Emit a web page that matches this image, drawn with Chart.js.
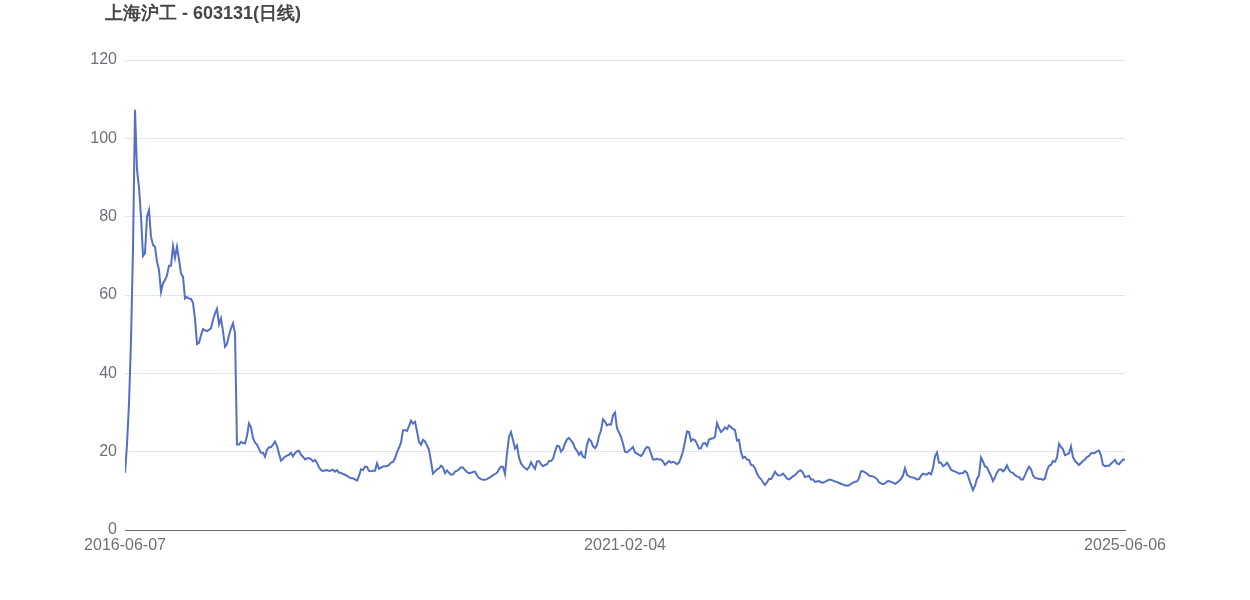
<!DOCTYPE html>
<html>
<head>
<meta charset="utf-8">
<script src="https://cdn.jsdelivr.net/npm/chart.js@4/dist/chart.umd.min.js"></script>
<style>
  html, body { margin: 0; padding: 0; background: #fff; }
  #wrap { width: 1250px; height: 600px; position: relative; }
</style>
</head>
<body>
<div id="wrap"><canvas id="klineChart"></canvas></div>
<script>
// daily close, every 2px of the plot
const chartTitle = '上海沪工 - 603131(日线)';
const xTickLabels = ['2016-06-07', '2021-02-04', '2025-06-06'];
const yTicks = [0, 20, 40, 60, 80, 100, 120];
const closes = [
  14.6, 21.8, 32.4, 48.3, 72.0, 107.3, 92, 87.5, 80, 70,
  70.7, 80, 81.7, 74.9, 72.8, 72.3, 68.5, 66.4, 60.8, 63.0,
  63.8, 65, 67.5, 67.5, 72.5, 69.5, 72.3, 69, 65.5, 64.7,
  59.1, 59.5, 59.1, 59, 58, 54, 47.5, 47.8, 49.7, 51.3,
  51, 50.8, 51.1, 51.5, 53.6, 55.3, 56.5, 52.5, 54, 50.8,
  46.8, 47.5, 49.7, 51.5, 52.8, 50.2, 21.8, 21.8, 22.5, 22.2,
  22.1, 24, 27.2, 26.2, 23.5, 22.3, 21.8, 20.7, 19.7, 19.7,
  18.7, 20.5, 21.1, 21.1, 21.8, 22.6, 21.5, 19.5, 17.7, 18.2,
  18.7, 19.0, 19.2, 19.7, 18.8, 19.6, 20.1, 20.2, 19.2, 18.7,
  18.0, 18.3, 18.3, 18.1, 17.5, 17.9, 17.1, 16.0, 15.3, 15.1,
  15.2, 15.3, 15.1, 15.2, 15.4, 14.9, 15.3, 14.6, 14.6, 14.3,
  14.1, 13.8, 13.5, 13.2, 13.2, 12.9, 12.6, 13.8, 15.5, 15.3,
  16.2, 16.1, 15.1, 15.0, 15.1, 15.1, 17.0, 15.6, 15.9, 16.2,
  16.3, 16.3, 16.6, 17.2, 17.4, 18.3, 19.8, 21.0, 22.3, 25.5,
  25.5, 25.3, 26.5, 27.9, 27.2, 27.6, 25.2, 22.5, 21.8, 23.0,
  22.6, 21.6, 20.5, 17.5, 14.4, 14.9, 15.5, 15.7, 16.4, 16.0,
  14.5, 15.2, 14.6, 14.1, 14.2, 14.9, 15.1, 15.5, 16.0, 15.9,
  15.3, 14.8, 14.5, 14.6, 14.8, 14.9, 13.9, 13.3, 13.0, 12.8,
  12.8, 13.0, 13.3, 13.6, 14.0, 14.3, 14.6, 15.5, 16.2, 16.1,
  14.3, 19.5, 23.8, 25.0, 23.0, 20.8, 21.6, 18.5, 17.0, 16.3,
  15.8, 15.4, 16.0, 17.3, 16.4, 15.6, 17.5, 17.6, 16.8, 16.3,
  16.6, 16.8, 17.6, 17.6, 18.2, 20.0, 21.5, 21.4, 20.0, 20.6,
  22.1, 23.1, 23.5, 22.9, 22.2, 20.9, 20.2, 19.2, 19.9, 18.7,
  18.5, 21.8, 23.2, 22.7, 21.4, 20.9, 21.7, 24.0, 25.4, 28.3,
  27.7, 26.7, 27.0, 26.9, 29.3, 30.0, 26.0, 24.9, 23.8, 22.0,
  20.0, 19.8, 20.3, 20.7, 21.2, 19.8, 19.5, 19.2, 18.9, 19.5,
  20.6, 21.2, 21.0, 19.5, 18.0, 18.0, 18.2, 18.0, 18.0, 17.5,
  16.6, 17.1, 17.6, 17.2, 17.4, 17.2, 16.8, 17.2, 18.5, 20.1,
  22.6, 25.2, 25.0, 22.7, 23.2, 22.9, 22.0, 20.8, 20.9, 22.1,
  22.2, 21.5, 23.1, 23.3, 23.4, 23.8, 27.3, 26.0, 25.0, 25.5,
  26.2, 25.8, 26.7, 26.3, 25.8, 25.5, 22.8, 23.0, 19.9, 18.4,
  18.7, 18.0, 17.9, 16.6, 16.5, 15.8, 14.4, 13.5, 13.0, 12.2,
  11.5, 12.2, 13.0, 13.0, 13.8, 14.9, 14.2, 13.9, 14.0, 14.4,
  13.8, 13.1, 12.9, 13.3, 13.7, 14.0, 14.6, 15.1, 15.2, 14.6,
  13.5, 13.7, 13.8, 12.9, 12.9, 12.3, 12.4, 12.5, 12.2, 12.1,
  12.3, 12.6, 12.8, 12.8, 12.6, 12.4, 12.3, 12.0, 11.8, 11.6,
  11.4, 11.3, 11.4, 11.8, 12.1, 12.3, 12.4, 13.2, 15.0, 15.0,
  14.7, 14.4, 13.9, 13.8, 13.7, 13.4, 13.0, 12.2, 11.9, 11.7,
  11.9, 12.4, 12.5, 12.3, 12.1, 11.8, 12.1, 12.5, 13.0, 13.9,
  15.8, 14.1, 13.7, 13.5, 13.4, 13.2, 12.9, 13.0, 13.8, 14.4,
  14.2, 14.2, 14.6, 14.2, 15.8, 18.8, 19.8, 17.2, 17.2, 16.3,
  16.6, 17.2, 16.4, 15.4, 15.1, 14.9, 14.7, 14.4, 14.5, 14.5,
  15.1, 14.6, 13.0, 11.6, 10.2, 11.3, 13.1, 13.9, 18.5, 17.5,
  16.2, 16.0, 14.8, 13.8, 12.5, 13.5, 14.7, 15.4, 15.5, 15.0,
  15.5, 16.5, 15.3, 14.7, 14.6, 14.0, 13.7, 13.5, 12.9, 12.9,
  14.0, 15.2, 16.2, 15.5, 13.9, 13.3, 13.2, 13.0, 13.0, 12.8,
  13.2, 15.2, 16.4, 16.6, 17.6, 17.4, 18.5, 22.0, 21.2, 20.6,
  19.1, 19.3, 19.6, 21.3, 18.6, 17.6, 17.1, 16.6, 17.1, 17.6,
  18.0, 18.6, 18.9, 19.6, 19.6, 19.7, 20.1, 20.3, 19.0, 16.6,
  16.3, 16.4, 16.4, 16.9, 17.4, 17.9, 17.0, 16.8, 17.4, 18.0,
  17.9
];

const lastIdx = closes.length - 1;
const xTickPos = [0, lastIdx / 2, lastIdx];

// title drawn by hand, top-left like the original
const titlePlugin = {
    id: 'leftTitle',
    afterDraw(chart) {
        const ctx = chart.ctx;
        ctx.save();
        ctx.font = 'bold 18px "Liberation Sans", Arial, sans-serif';
        ctx.fillStyle = '#464646';
        ctx.textAlign = 'left';
        ctx.textBaseline = 'middle';
        ctx.fillText(chartTitle, 105, 14);
        ctx.restore();
    }
};

Chart.defaults.font.family = '"Liberation Sans", Arial, sans-serif';
Chart.defaults.font.size = 16;
Chart.defaults.color = '#6e7079';

new Chart(document.getElementById('klineChart'), {
    type: 'line',
    data: {
        datasets: [{
            label: chartTitle,
            data: closes.map((v, i) => ({ x: i, y: v })),
            borderColor: '#5470c6',
            borderWidth: 2,
            pointRadius: 0,
            tension: 0,
            fill: false
        }]
    },
    options: {
        responsive: true,
        maintainAspectRatio: false,
        animation: false,
        layout: { padding: { top: 60, right: 125, left: 0, bottom: 0 } },
        plugins: { legend: { display: false }, tooltip: { enabled: false } },
        scales: {
            x: {
                type: 'linear',
                min: 0,
                max: lastIdx,
                afterBuildTicks: s => { s.ticks = xTickPos.map(v => ({ value: v })); },
                afterFit: s => { s.height = 70; },
                grid: { display: false, drawTicks: false },
                border: { display: true, color: '#6e7079', width: 1 },
                ticks: {
                    padding: 6,
                    maxRotation: 0,
                    autoSkip: false,
                    callback: (v) => xTickLabels[xTickPos.indexOf(v)]
                }
            },
            y: {
                min: 0,
                max: 120,
                afterBuildTicks: s => { s.ticks = yTicks.map(v => ({ value: v })); },
                afterFit: s => { s.width = 125; },
                border: { display: false },
                grid: {
                    color: ctx => ctx.tick && ctx.tick.value === 0 ? 'rgba(0,0,0,0)' : '#e0e6f1',
                    drawTicks: false
                },
                ticks: { padding: 8 }
            }
        }
    },
    plugins: [titlePlugin]
});
</script>
</body>
</html>
